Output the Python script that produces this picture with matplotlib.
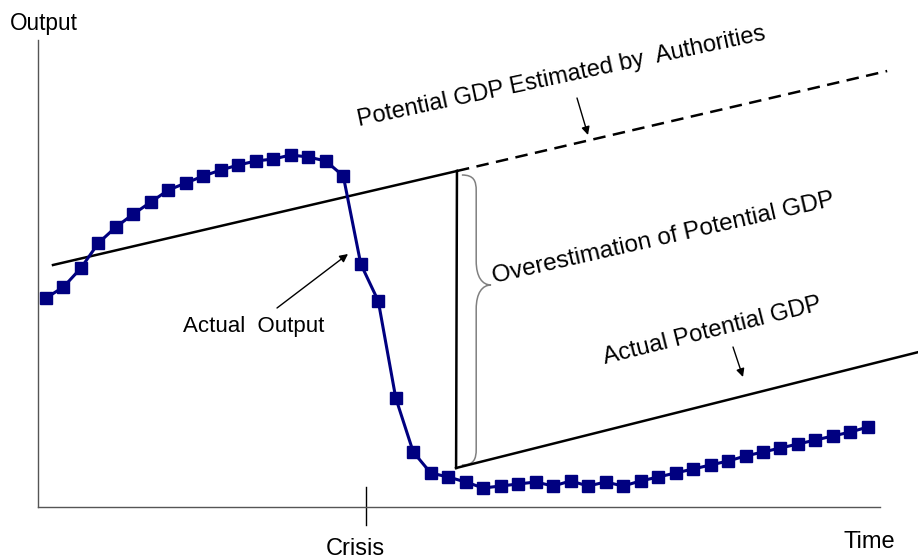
import numpy as np
import matplotlib
matplotlib.use("Agg")
import matplotlib.pyplot as plt
from matplotlib.path import Path
import matplotlib.patches as mpatches

plt.rcParams["font.family"] = ["Liberation Sans", "DejaVu Sans"]

# --- data (time index, output level) ---
periods = np.arange(48)
actual_output = [
    209, 220, 239, 264, 280, 293, 305, 317, 324, 331, 337, 342,
    346, 348, 352, 350, 346, 331, 243, 206, 109, 55, 34, 30,
    25, 19, 21, 23, 25, 21, 26, 21, 25, 21, 26, 30,
    34, 38, 42, 46, 51, 55, 59, 63, 67, 71, 75, 80,
]
crisis_period = 18.3

# potential GDP as estimated by authorities (solid, then forecast dashed)
est_potential_t = [0.4, 23.5]
est_potential_y = [242, 336]
est_forecast_t = [23.5, 48.1]
est_forecast_y = [336, 436]

# actual potential GDP after the crisis
actual_potential_t = [23.45, 49.9]
actual_potential_y = [39, 155]

W, H = 918, 560
fig = plt.figure(figsize=(W / 100, H / 100), dpi=100)
ax = fig.add_axes([38 / W, 53 / H, 842 / W, 467 / H])
ax.set_xlim(-0.457, 47.69)
ax.set_ylim(0, 467)
ax.set_xticks([])
ax.set_yticks([])
for side in ["top", "right"]:
    ax.spines[side].set_visible(False)
for side in ["left", "bottom"]:
    ax.spines[side].set_color("#555555")
    ax.spines[side].set_linewidth(1)


def px(x, y):
    return (x / W, 1 - y / H)


# potential lines
ax.plot(est_potential_t, est_potential_y, color="black", lw=1.8, clip_on=False)
ax.plot(est_forecast_t, est_forecast_y, color="black", lw=1.8, dashes=(5, 3), clip_on=False)
ax.plot([est_potential_t[1], actual_potential_t[0]], [est_potential_y[1], actual_potential_y[0]],
        color="black", lw=1.8)
ax.plot(actual_potential_t, actual_potential_y, color="black", lw=1.8, clip_on=False)

# actual output
ax.plot(periods, actual_output, color="#000080", lw=2.2, marker="s", markersize=8,
        markerfacecolor="#000080", markeredgecolor="#000080", zorder=5, clip_on=False)

# crisis tick
ax.plot([crisis_period, crisis_period], [20, -18], color="black", lw=1, clip_on=False)

# curly brace for the overestimation gap
x0, x1, x2 = 23.78, 24.6, 25.45
ytop, ybot = 332, 42
ymid = 222
verts = [
    (x0, ytop), (x0 + 0.7, ytop), (x1, ytop - 6), (x1, ytop - 16),
    (x1, ymid + 24),
    (x1, ymid + 8), (x1 + 0.35, ymid), (x2, ymid),
    (x1 + 0.35, ymid), (x1, ymid - 8), (x1, ymid - 24),
    (x1, ybot + 16),
    (x1, ybot + 6), (x0 + 0.7, ybot), (x0, ybot),
]
codes = [Path.MOVETO, Path.CURVE4, Path.CURVE4, Path.CURVE4,
         Path.LINETO,
         Path.CURVE4, Path.CURVE4, Path.CURVE4,
         Path.CURVE4, Path.CURVE4, Path.CURVE4,
         Path.LINETO,
         Path.CURVE4, Path.CURVE4, Path.CURVE4]
brace = mpatches.PathPatch(Path(verts, codes), facecolor="none", edgecolor="#808080", lw=1.1)
ax.add_patch(brace)

# labels
fig.text(*px(10, 30), "Output", fontsize=16.3, ha="left", va="baseline")
fig.text(*px(844, 548), "Time", fontsize=17, ha="left", va="baseline")
fig.text(*px(355, 555), "Crisis", fontsize=17, ha="center", va="baseline")
fig.text(*px(183, 332), "Actual  Output", fontsize=16, ha="left", va="baseline")
fig.text(*px(359, 126), "Potential GDP Estimated by  Authorities", fontsize=17,
         ha="left", va="baseline", rotation=12, rotation_mode="anchor")
fig.text(*px(494, 283), "Overestimation of Potential GDP", fontsize=17.5,
         ha="left", va="baseline", rotation=12.8, rotation_mode="anchor")
fig.text(*px(605, 364), "Actual Potential GDP", fontsize=17.2,
         ha="left", va="baseline", rotation=14, rotation_mode="anchor")

arrow = dict(arrowstyle="-|>", color="black", lw=1, mutation_scale=12, shrinkA=0, shrinkB=0)
fig.add_artist(mpatches.FancyArrowPatch(px(277, 308), px(348, 254), transform=fig.transFigure, **arrow))
fig.add_artist(mpatches.FancyArrowPatch(px(577, 98), px(588, 135), transform=fig.transFigure, **arrow))
fig.add_artist(mpatches.FancyArrowPatch(px(733, 347), px(743, 377), transform=fig.transFigure, **arrow))

fig.savefig("out.png", dpi=100)
